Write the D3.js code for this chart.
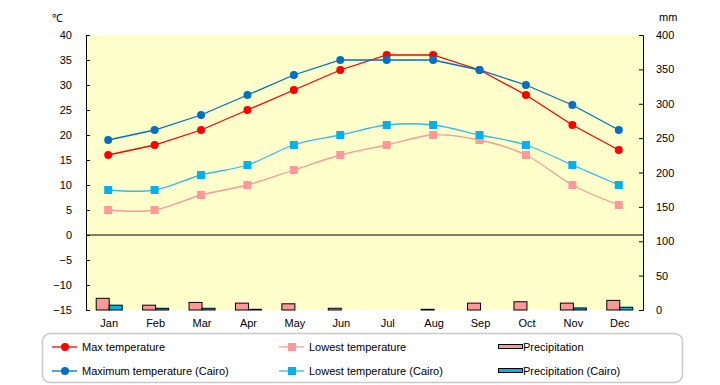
<!DOCTYPE html>
<html><head><meta charset="utf-8">
<script src="https://cdn.jsdelivr.net/npm/d3@7"></script>
<style>body{margin:0;background:#fff}svg{display:block}text{font-family:"Liberation Sans",Arial,sans-serif;font-size:11px;fill:#000}</style>
</head><body>
<svg id="c" width="720" height="385"></svg>
<script>
const months = ["Jan","Feb","Mar","Apr","May","Jun","Jul","Aug","Sep","Oct","Nov","Dec"];
const maxTemp = [16,18,21,25,29,33,36,36,33,28,22,17];
const lowTemp = [5,5,8,10,13,16,18,20,19,16,10,6];
const maxTempCairo = [19,21,24,28,32,35,35,35,33,30,26,21];
const lowTempCairo = [9,9,12,14,18,20,22,22,20,18,14,10];
const precip = [17,7,11,10,9,2.5,0,1,10,12,10,14];
const precipCairo = [7,2.5,2.5,1,0,0,0,0,0,0,3,4];
const tempTicks = [40,35,30,25,20,15,10,5,0,-5,-10,-15];
const mmTicks = [400,350,300,250,200,150,100,50,0];

const svg = d3.select("#c");
const L = 86, R = 643, T = 35, B = 310;
const x = d3.scaleBand().domain(months).range([L, R]);
const yT = d3.scaleLinear().domain([-15,40]).range([B,T]);
const yP = d3.scaleLinear().domain([0,400]).range([B,T]);

svg.append("rect").attr("x",L).attr("y",T).attr("width",R-L).attr("height",B-T).attr("fill","#ffffcc");

// axes
const gl = svg.append("g").attr("transform",`translate(${L},0)`)
  .call(d3.axisLeft(yT).tickValues(tempTicks).tickSize(-4).tickPadding(14).tickFormat(d=>d<0?"\u2212"+Math.abs(d):d));
const gr = svg.append("g").attr("transform",`translate(${R},0)`)
  .call(d3.axisRight(yP).tickValues(mmTicks).tickSize(-4).tickPadding(13));
[gl,gr].forEach(g=>{g.select(".domain").attr("stroke","#000");g.selectAll(".tick line").attr("stroke","#000");g.selectAll("text").style("font-size","11px").attr("fill","#000");});
svg.append("line").attr("x1",L).attr("x2",R).attr("y1",yT(0)).attr("y2",yT(0)).attr("stroke","#000");

const gx = svg.append("g").attr("transform",`translate(0,${B})`).call(d3.axisBottom(x).tickSize(0).tickPadding(9));
gx.select(".domain").remove();
gx.selectAll("text").style("font-size","11px").attr("fill","#000");

svg.append("text").attr("x",52).attr("y",22).text("\u2103");
svg.append("text").attr("x",659).attr("y",21).text("mm");

// bars
const bw = 13;
const cx = m => x(m) + x.bandwidth()/2;
svg.append("g").selectAll("rect").data(months).join("rect")
  .attr("x",m=>cx(m)-bw).attr("width",bw)
  .attr("y",(m,i)=>yP(precip[i])).attr("height",(m,i)=>B-yP(precip[i]))
  .attr("fill","#ff9999").attr("stroke","#000").attr("stroke-width",1);
svg.append("g").selectAll("rect").data(months).join("rect")
  .attr("x",m=>cx(m)).attr("width",bw)
  .attr("y",(m,i)=>yP(precipCairo[i])).attr("height",(m,i)=>B-yP(precipCairo[i]))
  .attr("fill","#00b0f0").attr("stroke","#000").attr("stroke-width",1);

function series(data, color, lineColor, shape, smooth){
  const line = d3.line().x((d,i)=>cx(months[i])-1).y(d=>yT(d)).curve(smooth?d3.curveCatmullRom.alpha(0):d3.curveLinear);
  svg.append("path").attr("d",line(data)).attr("fill","none").attr("stroke",lineColor).attr("stroke-width",1.3);
  const g = svg.append("g");
  if(shape==="circle"){
    g.selectAll("circle").data(data).join("circle").attr("cx",(d,i)=>cx(months[i])-1).attr("cy",d=>yT(d)).attr("r",4).attr("fill",color);
  } else {
    g.selectAll("rect").data(data).join("rect").attr("x",(d,i)=>cx(months[i])-5).attr("y",d=>yT(d)-4).attr("width",8).attr("height",8).attr("fill",color);
  }
}
series(lowTemp,"#ff9999","#ff9999","square",true);
series(lowTempCairo,"#00b0f0","#33bbee","square",true);
series(maxTemp,"#ff0000","#ff0000","circle",false);
series(maxTempCairo,"#0070c0","#0070c0","circle",false);

// legend
svg.append("rect").attr("x",42.5).attr("y",333.5).attr("width",640).attr("height",49).attr("rx",8)
  .attr("fill","#fff").attr("stroke","#c8c8c8").attr("stroke-width",1.5);
const leg = [
  {t:"Max temperature",x:52,y:347,c:"#ff0000",lc:"#ff0000",s:"circle"},
  {t:"Maximum temperature (Cairo)",x:52,y:371,c:"#0070c0",lc:"#0070c0",s:"circle"},
  {t:"Lowest temperature",x:279,y:347,c:"#ff9999",lc:"#ff9999",s:"square"},
  {t:"Lowest temperature (Cairo)",x:279,y:371,c:"#00b0f0",lc:"#33bbee",s:"square"},
  {t:"Precipitation",x:498,y:347,c:"#ff9999",s:"bar"},
  {t:"Precipitation (Cairo)",x:498,y:371,c:"#00b0f0",s:"bar"}
];
leg.forEach(l=>{
  const g = svg.append("g");
  if(l.s==="bar"){
    g.append("rect").attr("x",l.x+0.5).attr("y",l.y-2.5).attr("width",24).attr("height",4).attr("fill",l.c).attr("stroke","#000");
    g.append("text").attr("x",l.x+25).attr("y",l.y+4).text(l.t);
  } else {
    g.append("line").attr("x1",l.x).attr("x2",l.x+25).attr("y1",l.y).attr("y2",l.y).attr("stroke",l.lc).attr("stroke-width",1.3);
    if(l.s==="circle") g.append("circle").attr("cx",l.x+13).attr("cy",l.y).attr("r",4).attr("fill",l.c);
    else g.append("rect").attr("x",l.x+9).attr("y",l.y-4).attr("width",8).attr("height",8).attr("fill",l.c);
    g.append("text").attr("x",l.x+30).attr("y",l.y+4).text(l.t);
  }
});
</script>
</body></html>
